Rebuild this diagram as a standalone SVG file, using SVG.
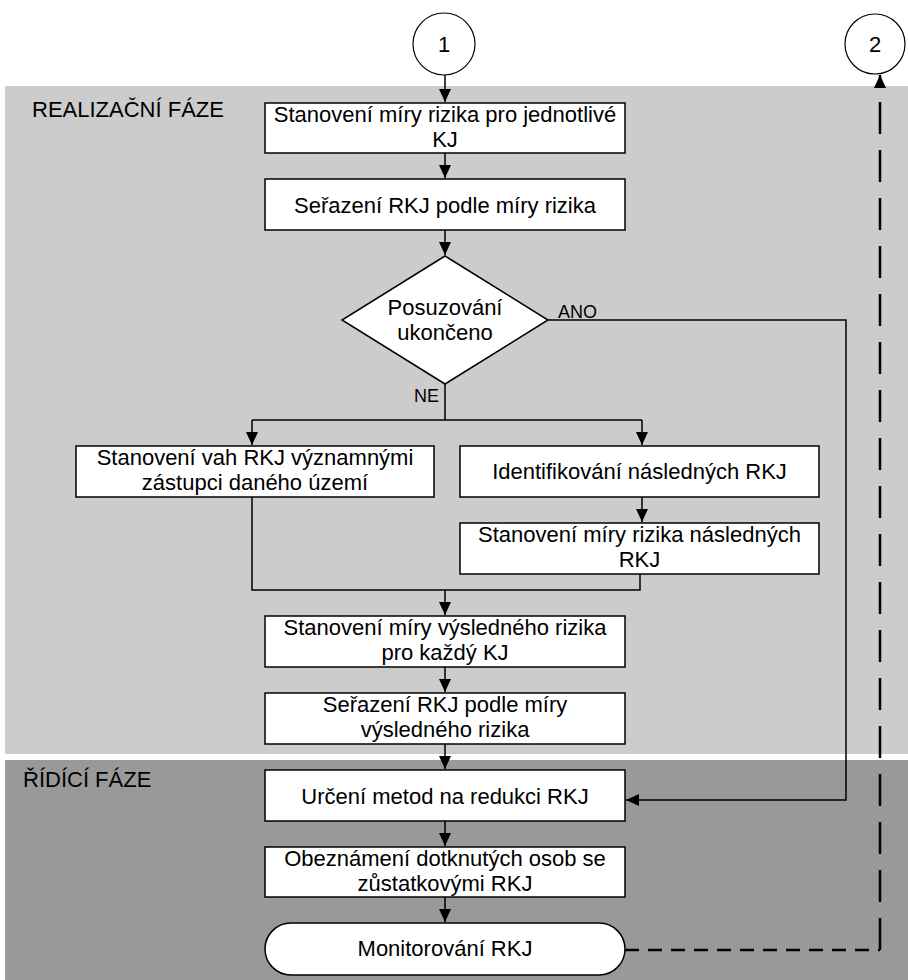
<svg xmlns="http://www.w3.org/2000/svg" width="908" height="980" viewBox="0 0 908 980">
<style>
text{font-family:"Liberation Sans",Arial,sans-serif;font-size:22px;fill:#000;text-anchor:middle}
.lbl{font-size:18px;text-anchor:start}
.phase{text-anchor:start}
.box{fill:#fff;stroke:#000;stroke-width:1.5}
.ln{fill:none;stroke:#000;stroke-width:1.5}
.dash{fill:none;stroke:#000;stroke-width:2.5}
</style>
<defs>
<marker id="ah" markerUnits="userSpaceOnUse" markerWidth="14" markerHeight="14" viewBox="0 0 14 14" refX="13" refY="7" orient="auto">
<path d="M0,1 L13,7 L0,13 Z" fill="#000"/>
</marker>
</defs>
<rect x="5" y="86" width="903" height="668" fill="#cccccc"/>
<rect x="5" y="760" width="903" height="220" fill="#999999"/>
<text class="phase" x="32" y="117">REALIZAČNÍ FÁZE</text>
<text class="phase" x="23" y="787">ŘÍDÍCÍ FÁZE</text>
<g id="connectors">
<path class="ln" d="M445,75 V102" marker-end="url(#ah)"/>
<path class="ln" d="M445,153 V178" marker-end="url(#ah)"/>
<path class="ln" d="M445,230 V255" marker-end="url(#ah)"/>
<path class="ln" d="M445,384 V420 M252,420 H642"/>
<path class="ln" d="M252,420 V445" marker-end="url(#ah)"/>
<path class="ln" d="M642,420 V445" marker-end="url(#ah)"/>
<path class="ln" d="M642,497 V522" marker-end="url(#ah)"/>
<path class="ln" d="M252,497 V590 H640 V574"/>
<path class="ln" d="M445,590 V615" marker-end="url(#ah)"/>
<path class="ln" d="M445,667 V692" marker-end="url(#ah)"/>
<path class="ln" d="M445,744 V769" marker-end="url(#ah)"/>
<path class="ln" d="M548,320 H846 V800 H626" marker-end="url(#ah)"/>
<path class="ln" d="M445,821 V846" marker-end="url(#ah)"/>
<path class="ln" d="M445,897 V922" marker-end="url(#ah)"/>
<path class="dash" d="M625,950 H880" stroke-dasharray="14 9"/>
<path class="dash" d="M880,950 V75" stroke-dasharray="32 16" marker-end="url(#ah)"/>
<text class="lbl" x="558" y="318">ANO</text>
<text class="lbl" x="414" y="402">NE</text>
</g>
<g id="c1"><circle cx="444" cy="44" r="31" fill="#fff" stroke="#000" stroke-width="1.2"/><text x="444" y="52">1</text></g>
<g id="c2"><circle cx="875" cy="44" r="30" fill="#fff" stroke="#000" stroke-width="1.2"/><text x="875" y="52">2</text></g>
<g id="n1"><rect class="box" x="265" y="103" width="360" height="50"/><text x="445" y="122">Stanovení míry rizika pro jednotlivé</text><text x="445" y="147">KJ</text></g>
<g id="n2"><rect class="box" x="265" y="179" width="360" height="51"/><text x="445" y="212.5">Seřazení RKJ podle míry rizika</text></g>
<g id="d1"><polygon class="box" points="445,256 548,320 445,384 342,320"/><text x="445" y="315">Posuzování</text><text x="445" y="340">ukončeno</text></g>
<g id="n3"><rect class="box" x="76" y="446" width="358" height="51"/><text x="255" y="465">Stanovení vah RKJ významnými</text><text x="255" y="490">zástupci daného území</text></g>
<g id="n4"><rect class="box" x="460" y="446" width="359" height="51"/><text x="639.5" y="479">Identifikování následných RKJ</text></g>
<g id="n5"><rect class="box" x="460" y="523" width="359" height="51"/><text x="639.5" y="542">Stanovení míry rizika následných</text><text x="639.5" y="567">RKJ</text></g>
<g id="n6"><rect class="box" x="265" y="616" width="360" height="51"/><text x="445" y="635">Stanovení míry výsledného rizika</text><text x="445" y="660">pro každý KJ</text></g>
<g id="n7"><rect class="box" x="265" y="693" width="360" height="51"/><text x="445" y="712">Seřazení RKJ podle míry</text><text x="445" y="737">výsledného rizika</text></g>
<g id="n8"><rect class="box" x="265" y="770" width="360" height="51"/><text x="445" y="803.5">Určení metod na redukci RKJ</text></g>
<g id="n9"><rect class="box" x="265" y="847" width="360" height="50"/><text x="445" y="866">Obeznámení dotknutých osob se</text><text x="445" y="891">zůstatkovými RKJ</text></g>
<g id="n10"><rect class="box" x="265" y="923" width="360" height="52" rx="26" ry="26"/><text x="445" y="956">Monitorování RKJ</text></g>
</svg>
